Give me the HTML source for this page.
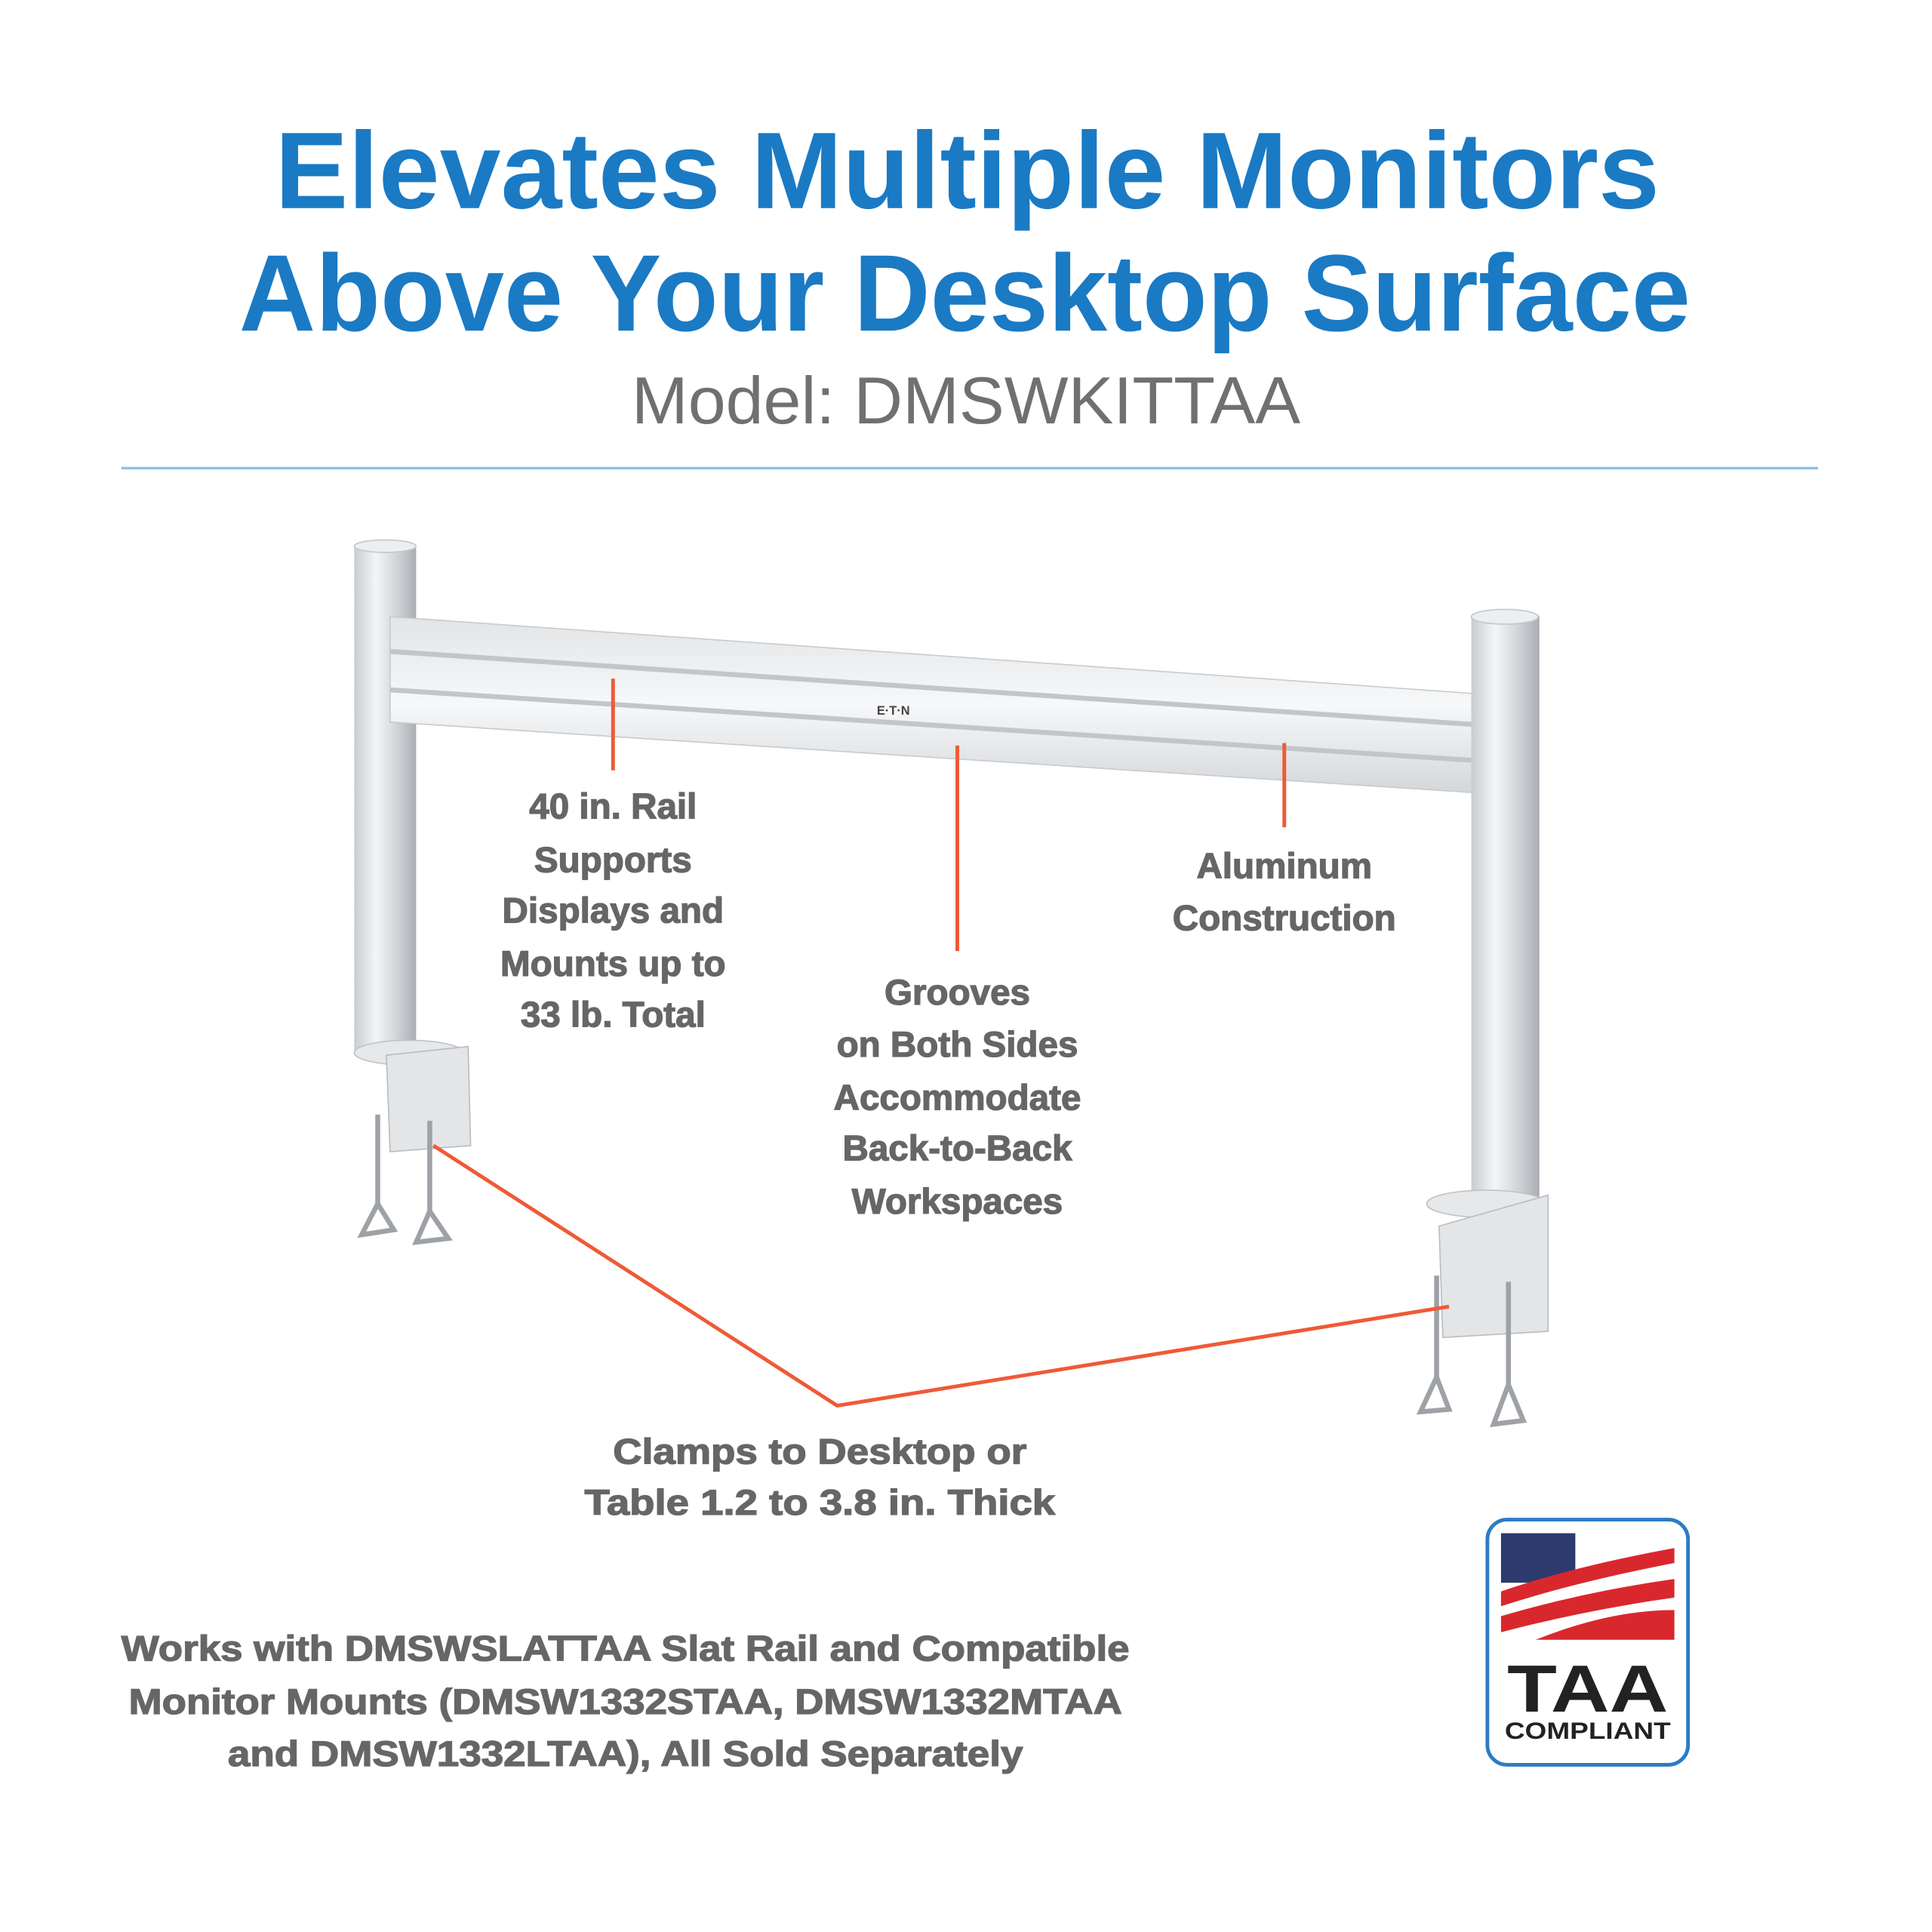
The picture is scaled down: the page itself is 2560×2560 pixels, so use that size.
<!DOCTYPE html>
<html><head><meta charset="utf-8"><style>html,body{margin:0;padding:0;background:#fff}svg{display:block}</style></head>
<body>
<svg width="2560" height="2560" viewBox="0 0 1560 1560" xmlns="http://www.w3.org/2000/svg" font-family="Liberation Sans, sans-serif">
<defs>
<linearGradient id="pv" x1="0" x2="1" y1="0" y2="0"><stop offset="0" stop-color="#c8ccd0"/><stop offset="0.35" stop-color="#f4f5f6"/><stop offset="0.7" stop-color="#d0d3d6"/><stop offset="1" stop-color="#a9adb2"/></linearGradient>
<linearGradient id="rv" x1="0" x2="0" y1="0" y2="1"><stop offset="0" stop-color="#e2e4e6"/><stop offset="0.5" stop-color="#f7f8f9"/><stop offset="1" stop-color="#d4d7da"/></linearGradient>
</defs>
<g fill="#1a7ac4" font-weight="bold" text-anchor="middle">
<text x="781" y="168" font-size="88" textLength="1118" lengthAdjust="spacingAndGlyphs">Elevates Multiple Monitors</text>
<text x="779" y="267" font-size="88" textLength="1172" lengthAdjust="spacingAndGlyphs">Above Your Desktop Surface</text>
</g>
<text x="780" y="342" font-size="54" fill="#707070" text-anchor="middle" textLength="540" lengthAdjust="spacingAndGlyphs">Model: DMSWKITTAA</text>
<line x1="98" y1="378" x2="1468" y2="378" stroke="#8ec0e4" stroke-width="2"/>
<rect x="286" y="440" width="50" height="410" fill="url(#pv)"/>
<ellipse cx="311" cy="441" rx="25" ry="5" fill="#eceef0" stroke="#c4c7ca"/>
<ellipse cx="330" cy="850" rx="44" ry="10" fill="#e6e8ea" stroke="#bfc3c6"/>
<path d="M312 852 L378 845 L380 925 L315 930 Z" fill="#e3e5e7" stroke="#b9bdc1"/>
<path d="M315 498 L1190 560 L1190 640 L315 583 Z" fill="url(#rv)" stroke="#c8cbce"/>
<line x1="315" y1="526" x2="1190" y2="585" stroke="#c3c6c9" stroke-width="4"/>
<line x1="315" y1="557" x2="1190" y2="614" stroke="#c3c6c9" stroke-width="4"/>
<text x="708" y="577" font-size="10" font-weight="bold" fill="#444">E·T·N</text>
<rect x="1188" y="497" width="55" height="488" fill="url(#pv)"/>
<ellipse cx="1215" cy="498" rx="27" ry="6" fill="#eceef0" stroke="#c4c7ca"/>
<ellipse cx="1200" cy="972" rx="48" ry="11" fill="#e6e8ea" stroke="#bfc3c6"/>
<path d="M1162 990 L1250 965 L1250 1075 L1165 1080 Z" fill="#e3e5e7" stroke="#b9bdc1"/>
<g stroke="#9ea2a6" stroke-width="4" fill="none">
<line x1="305" y1="900" x2="305" y2="975"/><path d="M305 972 L292 997 L318 993 Z"/>
<line x1="347" y1="905" x2="347" y2="980"/><path d="M347 978 L336 1003 L362 1000 Z"/>
<line x1="1160" y1="1030" x2="1160" y2="1115"/><path d="M1160 1112 L1147 1140 L1170 1138 Z"/>
<line x1="1218" y1="1035" x2="1218" y2="1120"/><path d="M1218 1118 L1206 1150 L1230 1147 Z"/>
</g>
<g stroke="#ef5a36" stroke-width="3" fill="none">
<line x1="495" y1="548" x2="495" y2="622"/>
<line x1="773" y1="602" x2="773" y2="768"/>
<line x1="1037" y1="600" x2="1037" y2="668"/>
<polyline points="350,925 676,1135 1170,1055"/>
</g>
<g fill="#666" font-weight="bold" font-size="29" text-anchor="middle" stroke="#666" stroke-width="0.8">
<text x="495" y="661">40 in. Rail</text><text x="495" y="704">Supports</text><text x="495" y="745">Displays and</text><text x="495" y="788">Mounts up to</text><text x="495" y="829">33 lb. Total</text>
<text x="773" y="811">Grooves</text><text x="773" y="853">on Both Sides</text><text x="773" y="896">Accommodate</text><text x="773" y="937">Back-to-Back</text><text x="773" y="980">Workspaces</text>
<text x="1037" y="709">Aluminum</text><text x="1037" y="751">Construction</text>
<text x="662" y="1182" textLength="334" lengthAdjust="spacingAndGlyphs">Clamps to Desktop or</text><text x="662" y="1223" textLength="380" lengthAdjust="spacingAndGlyphs">Table 1.2 to 3.8 in. Thick</text>
<text x="505" y="1341" textLength="814" lengthAdjust="spacingAndGlyphs">Works with DMSWSLATTAA Slat Rail and Compatible</text>
<text x="505" y="1384" textLength="802" lengthAdjust="spacingAndGlyphs">Monitor Mounts (DMSW1332STAA, DMSW1332MTAA</text>
<text x="505" y="1426" textLength="642" lengthAdjust="spacingAndGlyphs">and DMSW1332LTAA), All Sold Separately</text>
</g>
<rect x="1201" y="1227" width="162" height="198" rx="16" fill="#fff" stroke="#2b7cc4" stroke-width="3"/>
<rect x="1212" y="1238" width="60" height="40" fill="#2c3a6e"/>
<path d="M1212 1285 Q1270 1265 1352 1250 L1352 1262 Q1270 1278 1212 1297 Z" fill="#d9272e"/>
<path d="M1212 1305 Q1280 1285 1352 1275 L1352 1290 Q1280 1300 1212 1318 Z" fill="#d9272e"/>
<path d="M1240 1324 Q1300 1300 1352 1300 L1352 1324 Z" fill="#d9272e"/>
<text x="1282" y="1382" font-size="54" font-weight="bold" fill="#222" text-anchor="middle" textLength="130" lengthAdjust="spacingAndGlyphs">TAA</text>
<text x="1282" y="1404" font-size="19" font-weight="bold" fill="#222" text-anchor="middle" textLength="134" lengthAdjust="spacingAndGlyphs">COMPLIANT</text>
</svg>
</body></html>
